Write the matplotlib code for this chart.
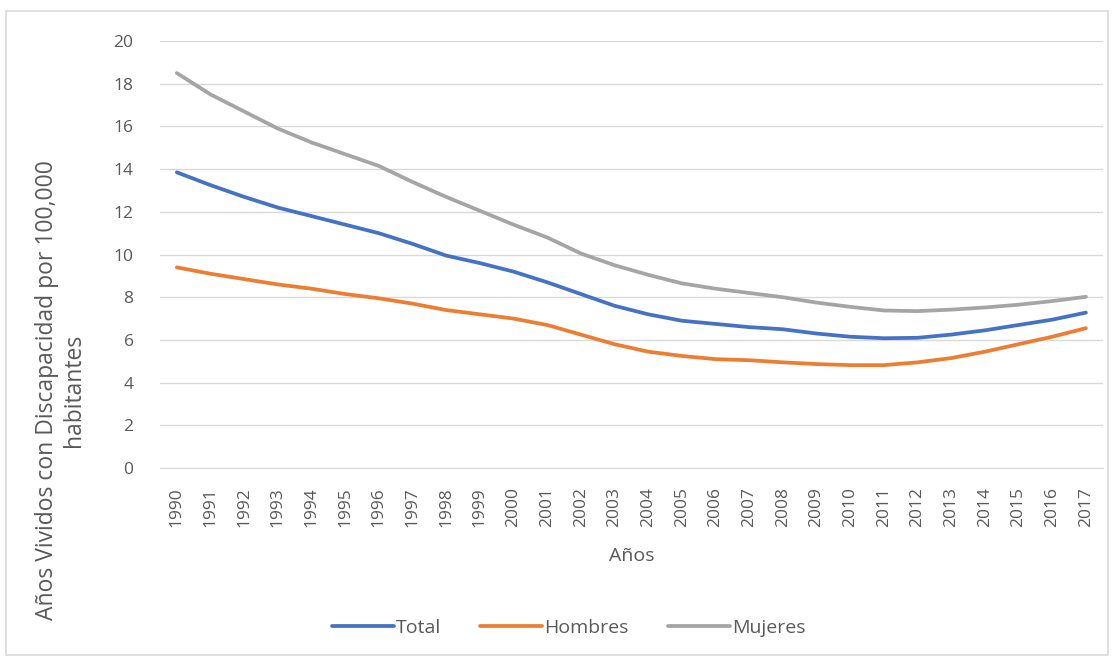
import matplotlib
matplotlib.use("Agg")
import matplotlib.pyplot as plt
from matplotlib.patches import Rectangle

years = list(range(1990, 2018))

total = [13.85, 13.25, 12.7, 12.2, 11.8, 11.4, 11.0, 10.5, 9.95, 9.6,
         9.2, 8.7, 8.15, 7.6, 7.2, 6.9, 6.75, 6.6, 6.5, 6.3,
         6.15, 6.08, 6.1, 6.25, 6.45, 6.7, 6.95, 7.28]
hombres = [9.4, 9.1, 8.85, 8.6, 8.4, 8.15, 7.95, 7.7, 7.4, 7.2,
           7.0, 6.7, 6.25, 5.8, 5.45, 5.25, 5.1, 5.05, 4.95, 4.87,
           4.82, 4.82, 4.95, 5.15, 5.45, 5.8, 6.15, 6.55]
mujeres = [18.5, 17.5, 16.7, 15.9, 15.25, 14.7, 14.15, 13.4, 12.7, 12.05,
           11.4, 10.8, 10.05, 9.5, 9.05, 8.65, 8.4, 8.2, 8.0, 7.75,
           7.55, 7.38, 7.35, 7.42, 7.52, 7.65, 7.82, 8.02]

series = [("Total", total, "#4472C4"),
          ("Hombres", hombres, "#ED7D31"),
          ("Mujeres", mujeres, "#A5A5A5")]

plt.rcParams['font.family'] = ['Open Sans', 'DejaVu Sans']
txt = "#595959"

fig = plt.figure(figsize=(11.15, 6.62), dpi=100)
fig.patches.append(Rectangle((6 / 1115, 7 / 662), 1102 / 1115, 644 / 662,
                             transform=fig.transFigure, fill=False,
                             edgecolor="#D9D9D9", linewidth=1.2))
ax = fig.add_axes([0.1435, 0.293, 0.8455, 0.645])

x = list(range(len(years)))
for name, vals, col in series:
    ax.plot(x, vals, color=col, linewidth=2.7, label=name,
            solid_capstyle="round", solid_joinstyle="round")

ax.set_xlim(-0.5, len(years) - 0.5)
ax.set_ylim(0, 20)
ax.set_yticks(range(0, 21, 2))
ax.set_xticks(x)
ax.set_xticklabels([str(y) for y in years], rotation=90)
ax.grid(axis="y", color="#D9D9D9", linewidth=1)
ax.set_axisbelow(True)
for s in ["top", "right", "left"]:
    ax.spines[s].set_visible(False)
ax.spines["bottom"].set_color("#D9D9D9")
ax.tick_params(length=0, labelsize=12.5, colors=txt)
ax.tick_params(axis="x", pad=14)
ax.tick_params(axis="y", pad=19)

ax.set_xlabel("Años", fontsize=14, color=txt, labelpad=14)
fig.text(0.054, 0.411, "Años Vividos con Discapacidad por 100,000\nhabitantes",
         rotation=90, ha="center", va="center", fontsize=16.5, color=txt,
         multialignment="center", linespacing=1.15)

fig.legend(loc="center", bbox_to_anchor=(0.51, 0.052), ncol=3, frameon=False,
           fontsize=14, labelcolor=txt, handlelength=3.2, handletextpad=0.1,
           columnspacing=2.0)

fig.savefig("out.png", dpi=100)
